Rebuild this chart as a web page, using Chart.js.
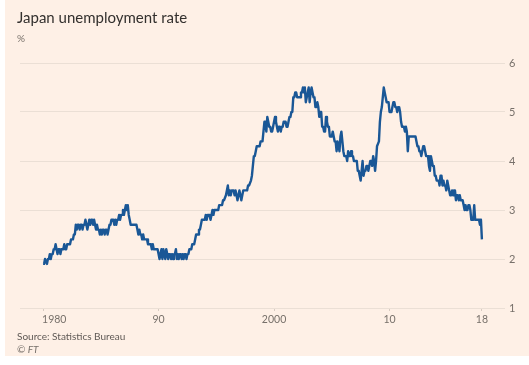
<!DOCTYPE html>
<html>
<head>
<meta charset="utf-8">
<title>Japan unemployment rate</title>
<script src="https://cdn.jsdelivr.net/npm/chart.js@4.4.1/dist/chart.umd.min.js"></script>
<style>
    body { margin: 0; width: 529px; height: 365px; background: #fff; overflow: hidden; position: relative; }
    .panel { position: absolute; left: 5px; top: 0; width: 524px; height: 356px; background: #fef0e6; }
    #chart { position: absolute; left: 0; top: 0; }
</style>
</head>
<body>
<div class="panel"></div>
<canvas id="chart" width="529" height="365"></canvas>
<script>
// monthly, seasonally adjusted, Jan 1980 to Jan 2018
const startYear = 1980;
const rates = [
    1.9, 1.9, 2.0, 2.0, 1.9, 2.0, 2.0, 2.1, 2.0, 2.1, 2.1, 2.2, // 1980
    2.2, 2.3, 2.2, 2.1, 2.2, 2.2, 2.1, 2.2, 2.2, 2.2, 2.3, 2.2, // 1981
    2.2, 2.3, 2.3, 2.3, 2.3, 2.4, 2.4, 2.4, 2.5, 2.5, 2.7, 2.6, // 1982
    2.7, 2.7, 2.6, 2.7, 2.7, 2.6, 2.7, 2.7, 2.8, 2.7, 2.6, 2.7, // 1983
    2.8, 2.7, 2.8, 2.8, 2.7, 2.8, 2.7, 2.6, 2.7, 2.6, 2.6, 2.5, // 1984
    2.6, 2.5, 2.6, 2.6, 2.5, 2.6, 2.6, 2.5, 2.6, 2.7, 2.7, 2.8, // 1985
    2.8, 2.8, 2.7, 2.8, 2.7, 2.8, 2.8, 2.9, 2.8, 2.9, 2.9, 3.0, // 1986
    2.9, 3.0, 3.1, 3.0, 3.1, 2.9, 2.8, 2.7, 2.7, 2.7, 2.7, 2.7, // 1987
    2.7, 2.7, 2.6, 2.5, 2.6, 2.5, 2.5, 2.4, 2.5, 2.4, 2.4, 2.4, // 1988
    2.4, 2.3, 2.3, 2.3, 2.3, 2.2, 2.3, 2.2, 2.2, 2.2, 2.2, 2.2, // 1989
    2.1, 2.0, 2.1, 2.2, 2.0, 2.2, 2.1, 2.0, 2.2, 2.1, 2.0, 2.1, // 1990
    2.1, 2.0, 2.1, 2.0, 2.1, 2.1, 2.2, 2.0, 2.1, 2.0, 2.1, 2.1, // 1991
    2.0, 2.1, 2.0, 2.1, 2.1, 2.0, 2.1, 2.1, 2.2, 2.2, 2.2, 2.3, // 1992
    2.3, 2.3, 2.4, 2.5, 2.5, 2.5, 2.6, 2.6, 2.7, 2.8, 2.8, 2.8, // 1993
    2.8, 2.9, 2.8, 2.9, 2.9, 2.9, 2.8, 2.9, 3.0, 2.9, 3.0, 3.0, // 1994
    3.0, 3.0, 3.0, 3.1, 3.1, 3.1, 3.1, 3.2, 3.2, 3.2, 3.3, 3.4, // 1995
    3.5, 3.3, 3.4, 3.3, 3.4, 3.4, 3.4, 3.3, 3.4, 3.3, 3.2, 3.3, // 1996
    3.4, 3.3, 3.2, 3.3, 3.4, 3.4, 3.4, 3.4, 3.4, 3.5, 3.5, 3.5, // 1997
    3.6, 3.7, 3.9, 4.1, 4.1, 4.2, 4.3, 4.3, 4.3, 4.3, 4.4, 4.4, // 1998
    4.4, 4.6, 4.8, 4.8, 4.6, 4.9, 4.8, 4.7, 4.7, 4.6, 4.6, 4.7, // 1999
    4.8, 4.9, 4.8, 4.7, 4.6, 4.7, 4.7, 4.6, 4.7, 4.7, 4.8, 4.8, // 2000
    4.8, 4.7, 4.7, 4.8, 4.9, 4.9, 5.0, 5.0, 5.3, 5.3, 5.4, 5.4, // 2001
    5.3, 5.3, 5.3, 5.3, 5.4, 5.4, 5.5, 5.4, 5.5, 5.2, 5.3, 5.4, // 2002
    5.5, 5.2, 5.4, 5.5, 5.4, 5.3, 5.3, 5.1, 5.1, 5.2, 5.1, 4.9, // 2003
    5.0, 5.0, 4.7, 4.7, 4.6, 4.6, 4.9, 4.8, 4.7, 4.7, 4.5, 4.5, // 2004
    4.5, 4.6, 4.5, 4.4, 4.4, 4.2, 4.4, 4.3, 4.2, 4.5, 4.6, 4.4, // 2005
    4.2, 4.1, 4.1, 4.1, 4.0, 4.2, 4.1, 4.1, 4.2, 4.1, 4.1, 4.0, // 2006
    4.0, 4.0, 4.0, 3.8, 3.8, 3.7, 3.6, 3.8, 4.0, 3.7, 3.8, 3.8, // 2007
    3.9, 3.9, 3.8, 3.9, 4.0, 4.0, 3.9, 4.1, 4.0, 3.8, 4.0, 4.3, // 2008
    4.3, 4.4, 4.8, 5.0, 5.1, 5.3, 5.5, 5.4, 5.3, 5.2, 5.2, 5.2, // 2009
    5.0, 5.0, 5.0, 5.1, 5.2, 5.2, 5.1, 5.1, 5.0, 5.1, 5.1, 5.0, // 2010
    4.8, 4.7, 4.7, 4.7, 4.6, 4.7, 4.6, 4.2, 4.5, 4.5, 4.5, 4.5, // 2011
    4.5, 4.5, 4.5, 4.5, 4.4, 4.3, 4.3, 4.2, 4.2, 4.1, 4.2, 4.3, // 2012
    4.3, 4.2, 4.1, 4.1, 4.1, 3.9, 3.8, 4.1, 4.0, 3.9, 3.9, 3.7, // 2013
    3.7, 3.6, 3.6, 3.6, 3.5, 3.7, 3.7, 3.5, 3.6, 3.5, 3.5, 3.4, // 2014
    3.6, 3.5, 3.4, 3.3, 3.3, 3.4, 3.3, 3.4, 3.4, 3.2, 3.3, 3.3, // 2015
    3.2, 3.3, 3.2, 3.2, 3.2, 3.1, 3.0, 3.1, 3.0, 3.0, 3.1, 3.1, // 2016
    3.0, 2.8, 2.8, 2.8, 3.1, 2.8, 2.8, 2.8, 2.8, 2.8, 2.7, 2.8, // 2017
    2.4                                                         // 2018
];

const xTickValues = [1980, 1990, 2000, 2010, 2018];
const xTickLabels = ['1980', '90', '2000', '10', '18'];
const yTickValues = [1, 2, 3, 4, 5, 6];

const titleText = 'Japan unemployment rate';
const unitText = '%';
const sourceText = 'Source: Statistics Bureau';
const creditText = '\u00A9 FT';

const FONT = 'Lato, "Open Sans", sans-serif';
const GREY = '#77706a';

const points = rates.map((v, i) => ({ x: startYear + i / 12, y: v }));

// title, unit, source and x labels
const textPlugin = {
    id: 'ftText',
    afterDraw(chart) {
        const ctx = chart.ctx;
        const x = chart.scales.x;
        ctx.save();
        ctx.fillStyle = '#33302e';
        ctx.font = '15px ' + FONT;
        ctx.textAlign = 'left';
        ctx.textBaseline = 'alphabetic';
        ctx.fillText(titleText, 17, 23);

        ctx.fillStyle = GREY;
        ctx.font = '10px ' + FONT;
        ctx.fillText(unitText, 17, 42);

        ctx.font = '10.5px ' + FONT;
        xTickValues.forEach((v, i) => {
            const px = x.getPixelForValue(v);
            ctx.textAlign = i === 0 ? 'left' : 'center';
            ctx.fillText(xTickLabels[i], i === 0 ? px - 1 : px, 323);
        });

        ctx.textAlign = 'left';
        ctx.fillStyle = '#5f5955';
        ctx.font = '10px ' + FONT;
        ctx.fillText(sourceText, 17, 340);
        ctx.font = 'italic 10px ' + FONT;
        ctx.fillStyle = GREY;
        ctx.fillText(creditText, 17, 353);
        ctx.restore();
    }
};

new Chart(document.getElementById('chart'), {
    type: 'line',
    data: {
        datasets: [{
            data: points,
            borderColor: '#1a5796',
            borderWidth: 2.4,
            borderJoinStyle: 'round',
            pointRadius: 0,
            tension: 0,
            fill: false
        }]
    },
    options: {
        responsive: false,
        animation: false,
        events: [],
        layout: { padding: { left: 20, top: 63, right: 0, bottom: 0 } },
        plugins: { legend: { display: false }, tooltip: { enabled: false } },
        scales: {
            x: {
                type: 'linear',
                min: 1978,
                max: 2020,
                afterBuildTicks: (scale) => { scale.ticks = xTickValues.map(v => ({ value: v })); },
                afterFit: (scale) => { scale.height = 57; },
                ticks: { display: false },
                grid: { drawOnChartArea: false, drawTicks: true, tickLength: 3, color: '#d8ccc2' },
                border: { display: false }
            },
            y: {
                position: 'right',
                min: 1,
                max: 6,
                afterBuildTicks: (scale) => { scale.ticks = yTickValues.map(v => ({ value: v })); },
                afterFit: (scale) => { scale.width = 24; },
                ticks: { color: GREY, font: { family: FONT, size: 11 }, padding: 4 },
                grid: { drawTicks: false, color: '#ebdfd5' },
                border: { display: false }
            }
        }
    },
    plugins: [textPlugin]
});
</script>
</body>
</html>
